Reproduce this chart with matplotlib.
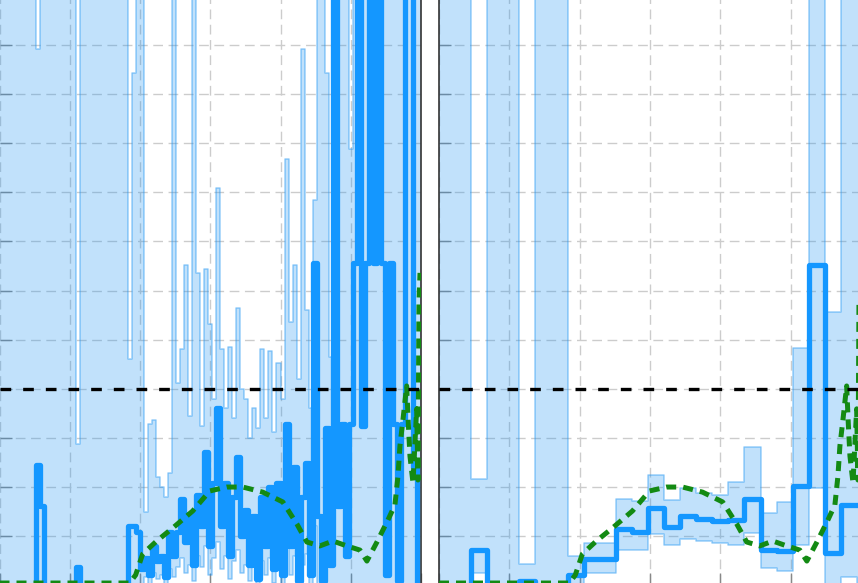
import numpy as np
import matplotlib
matplotlib.use("Agg")
import matplotlib.pyplot as plt

# ---------------- data ----------------
fine_edges = np.linspace(0.0, 6.0, 106)            # 105 fine bins (left panel)
coarse_edges = np.arange(28) * (6.0 / 26.25)       # coarse bins (right panel)

fine_main = ([0.0] * 9 + [0.61, 0.40] + [0.0] * 8 + [0.09] + [0.0] * 12 +
             [0.30, 0.30, 0.27, 0.08, 0.14, 0.05, 0.20, 0.12, 0.15, 0.04,
              0.27, 0.15, 0.27, 0.44, 0.22, 0.36, 0.10, 0.46, 0.30, 0.68,
              0.20, 0.52, 0.90, 0.30, 0.52, 0.15, 0.45, 0.65, 0.25, 0.38,
              0.10, 0.35, 0.03, 0.45, 0.20, 0.50, 0.08, 0.52, 0.05, 0.82,
              0.20, 0.60, 0.02, 0.45, 0.62, 0.05, 1.64, 0.35, 0.02, 0.80,
              0.10, 3.50, 0.40, 0.82, 0.15, 0.82, 1.64, 3.50, 0.81, 1.64,
              3.50, 1.64, 3.50, 1.64, 0.05, 1.64, 0.82, 0.02, 0.82, 3.50,
              3.50, 0.60, 0.00])
fine_hi = ([3.5] * 9 + [2.73] + [3.5] * 9 + [0.72] + [3.5] * 12 +
           [1.15, 2.61, 3.5, 3.5, 0.37, 0.82, 0.84, 0.55, 0.50, 0.45,
            0.57, 3.5, 1.03, 1.20, 1.63, 0.86, 3.5, 1.59, 0.81, 1.61,
            1.33, 0.95, 2.02, 1.20, 0.90, 1.21, 0.85, 1.41, 1.00, 0.95,
            0.75, 0.90, 0.80, 1.20, 0.85, 1.19, 0.78, 1.13, 0.95, 2.17,
            1.34, 1.63, 1.05, 2.73, 1.40, 0.90, 1.96, 3.5, 3.5, 2.61,
            1.16, 3.5, 3.5, 3.5, 3.5, 2.22, 3.5, 3.5, 3.5, 3.5,
            3.5, 3.5, 3.5, 3.5, 3.5, 3.5, 3.5, 3.5, 3.5, 3.5,
            3.5, 3.5, 3.5])
fine_lo = ([0.0] * 36 +
           [0.04, 0.00, 0.06, 0.03, 0.05, 0.00, 0.08, 0.04, 0.09, 0.14,
            0.06, 0.10, 0.02, 0.15, 0.09, 0.20, 0.05, 0.14, 0.22, 0.08,
            0.15, 0.03, 0.12, 0.18, 0.06, 0.10, 0.02, 0.09, 0.00, 0.12,
            0.05, 0.14, 0.01, 0.13, 0.00, 0.20, 0.05, 0.15, 0.00, 0.10,
            0.16, 0.00, 0.30, 0.00, 0.00, 0.00, 0.00] + [0.0] * 22)

coarse_main = [0.0, 0.0, 0.18, 0.0, 0.0, 0.022, 0.0, 0.0, 0.05, 0.13,
               0.13, 0.283, 0.272, 0.39, 0.297, 0.353, 0.338, 0.326, 0.331, 0.437,
               0.178, 0.173, 0.506, 1.63, 0.161, 0.408, 0.408]
coarse_lo = [0.0, 0.0, 0.06, 0.0, 0.0, 0.0, 0.0, 0.0, 0.0, 0.063,
             0.063, 0.178, 0.178, 0.262, 0.205, 0.234, 0.224, 0.215, 0.205, 0.263,
             0.085, 0.071, 0.205, 0.493, 0.0, 0.04, 0.0]
coarse_hi = [3.5, 3.5, 0.54, 3.5, 3.5, 0.105, 3.5, 3.5, 0.149, 0.215,
             0.215, 0.44, 0.43, 0.56, 0.433, 0.493, 0.467, 0.458, 0.526, 0.705,
             0.368, 0.421, 1.209, 3.5, 1.392, 3.5, 3.5]

curve_x = [0.0, 1.853, 1.938, 2.038, 2.237, 2.465, 2.750, 2.993, 3.235, 3.463,
           3.748, 4.033, 4.233, 4.375, 4.560, 4.746, 4.945, 5.130, 5.230, 5.373,
           5.529, 5.629, 5.672, 5.700, 5.743, 5.796, 5.819, 5.843, 5.886, 5.938,
           5.957, 5.971, 5.986]
curve_y = [0.010, 0.010, 0.051, 0.158, 0.224, 0.290, 0.377, 0.479, 0.499, 0.499,
           0.473, 0.423, 0.311, 0.219, 0.199, 0.224, 0.199, 0.178, 0.122, 0.219,
           0.331, 0.408, 0.555, 0.708, 0.841, 1.014, 0.825, 0.657, 0.520, 0.897,
           0.535, 1.44, 1.59]

ref_level = 1.0

# ---------------- figure ----------------
W, H = 858, 583
fig = plt.figure(figsize=(W / 100, H / 100), dpi=100)


def px_axes(x0, x1, ytop, ybot):
    return fig.add_axes([x0 / W, (H - ybot) / H, (x1 - x0) / W, (ybot - ytop) / H])


axL = px_axes(-0.5, 421.0, -3.9, 585.0)
axR = px_axes(439.0, 861.0, -3.9, 585.0)

band_c = "#2196F3"
main_c = "#1497FF"


def ext(a):
    a = np.asarray(a, dtype=float)
    return np.append(a, a[-1])


def draw(ax, edges, lo, hi, main, lw_main):
    ax.fill_between(edges, ext(lo), ext(hi), step="post", color=band_c,
                    alpha=0.28, lw=0, zorder=1)
    ax.step(edges, ext(hi), where="post", color=band_c, alpha=0.45, lw=1.1, zorder=1.5)
    ax.step(edges, ext(lo), where="post", color=band_c, alpha=0.45, lw=1.1, zorder=1.5)
    ax.step(edges, ext(main), where="post", color=main_c, lw=lw_main, zorder=3)
    ax.plot(curve_x, curve_y, color="#138a13", lw=3.6, ls=(0, (2.0, 1.4)), zorder=4)
    ax.axhline(ref_level, color="black", lw=2.4, ls=(0, (3.2, 3.6)), zorder=5)
    ax.set_xlim(0, 6)
    ax.set_ylim(0, 3)
    ax.set_xticks(np.arange(0, 7, 1))
    ax.set_yticks(np.arange(0, 3.01, 0.25))
    ax.set_axisbelow(True)
    ax.grid(True, color="#cccccc", lw=1.0, ls=(0, (7, 4)))
    ax.tick_params(direction="in", length=8.5, width=1.0, color="#888888",
                   labelleft=False, labelbottom=False)
    for s in ax.spines.values():
        s.set_color("#333333")
        s.set_linewidth(1.2)


draw(axL, fine_edges, fine_lo, fine_hi, fine_main, 3.8)
draw(axR, coarse_edges, coarse_lo, coarse_hi, coarse_main, 3.8)
axL.spines["left"].set_visible(False)

fig.savefig("out.png", dpi=100)
